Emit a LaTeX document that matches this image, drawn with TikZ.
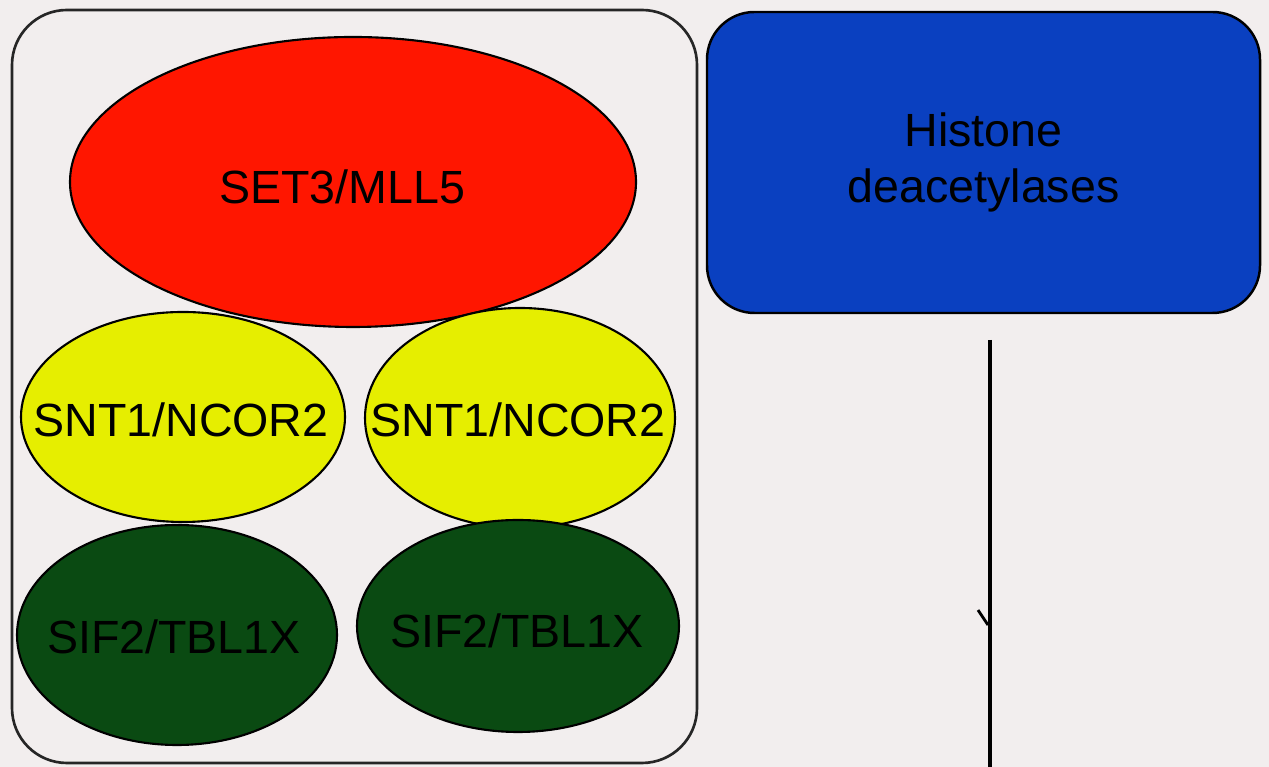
\documentclass[tikz,border=0pt]{standalone}
\usepackage{fontspec}
\setmainfont{Liberation Sans}
\usetikzlibrary{shapes.geometric}
\definecolor{paper}{RGB}{242,238,238}
\definecolor{setred}{RGB}{255,22,0}
\definecolor{sntyellow}{RGB}{230,238,0}
\definecolor{sifgreen}{RGB}{10,74,18}
\definecolor{hdacblue}{RGB}{10,64,192}
\tikzset{
  frame/.style={draw=black!85, line width=1.5pt, rounded corners=1.1cm},
  subunit/.style={ellipse, draw=black, line width=1.2pt, inner sep=0pt},
  subunitlabel/.style={text=black, inner sep=0pt, font=\fontsize{26.5}{32}\selectfont},
  hdacbox/.style={rectangle, draw=black, line width=1.4pt, rounded corners=0.95cm,
    fill=hdacblue, inner sep=0pt, align=center, font=\fontsize{26.5}{32}\selectfont},
  stem/.style={line width=2.4pt, draw=black},
}
\begin{document}
\begin{tikzpicture}
\useasboundingbox (0,0) rectangle (25.38,15.34);
\fill[paper] (0,0) rectangle (25.38,15.34);
\draw[frame] (0.24,0.08) rectangle (13.94,15.14);
\node[subunit, fill=setred, minimum width=11.32cm, minimum height=5.80cm] (set3) at (7.06,11.70) {};
\node[subunitlabel] (set3-t) at (6.84,11.60) {SET3/MLL5};
\node[subunit, fill=sntyellow, minimum width=6.48cm, minimum height=4.20cm] (sntA) at (3.66,7.00) {};
\node[subunitlabel] (sntA-t) at (3.62,6.94) {SNT1/NCOR2};
\node[subunit, fill=sntyellow, minimum width=6.20cm, minimum height=4.40cm] (sntB) at (10.40,6.98) {};
\node[subunitlabel] (sntB-t) at (10.36,6.94) {SNT1/NCOR2};
\node[subunit, fill=sifgreen, minimum width=6.40cm, minimum height=4.40cm] (sifA) at (3.54,2.64) {};
\node[subunitlabel] (sifA-t) at (3.48,2.60) {SIF2/TBL1X};
\node[subunit, fill=sifgreen, minimum width=6.44cm, minimum height=4.24cm] (sifB) at (10.36,2.82) {};
\node[subunitlabel] (sifB-t) at (10.34,2.72) {SIF2/TBL1X};
\node[hdacbox, minimum width=11.06cm, minimum height=6.02cm] (hdac) at (19.67,12.09) {Histone\\deacetylases};
\coordinate (stemtop) at (19.80,8.54);
\coordinate (stembot) at (19.80,0);
\coordinate (ticka) at (19.56,3.14);
\coordinate (tickb) at (19.76,2.84);
\draw[stem] (stemtop) -- (stembot);
\draw[line width=1.6pt] (ticka) -- (tickb);
\end{tikzpicture}
\end{document}
